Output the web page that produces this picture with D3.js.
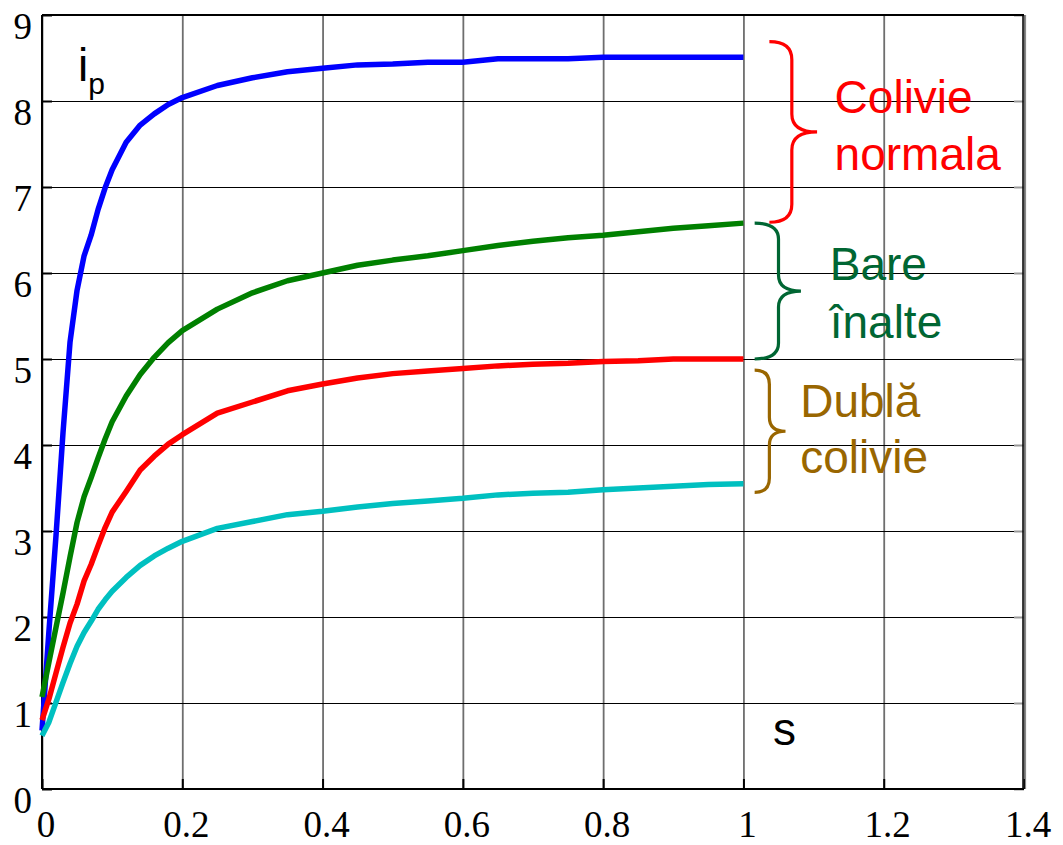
<!DOCTYPE html>
<html>
<head>
<meta charset="utf-8">
<script src="https://cdn.jsdelivr.net/npm/d3@7/dist/d3.min.js"></script>
<style>
  html, body { margin: 0; padding: 0; background: #fff; }
  svg { display: block; }
</style>
</head>
<body>
<svg id="chart" width="1063" height="845"></svg>
<script>
// Slip values shared by all four curves
const slip = [0, 0.01, 0.02, 0.03, 0.04, 0.05, 0.06, 0.07, 0.08, 0.09, 0.10,
  0.12, 0.14, 0.16, 0.18, 0.20, 0.25, 0.30, 0.35, 0.40, 0.45, 0.50, 0.55,
  0.60, 0.65, 0.70, 0.75, 0.80, 0.85, 0.90, 0.95, 1.00];

// Starting current (per unit) for each rotor type
const ipNormal = [0.68, 1.85, 2.95, 4.15, 5.2, 5.8, 6.2, 6.44, 6.74, 6.99, 7.2,
  7.52, 7.72, 7.85, 7.96, 8.04, 8.18, 8.27, 8.34, 8.38, 8.42, 8.43, 8.45,
  8.45, 8.49, 8.49, 8.49, 8.51, 8.51, 8.51, 8.51, 8.51];
const ipDeepBar = [1.07, 1.48, 1.88, 2.28, 2.7, 3.1, 3.4, 3.62, 3.85, 4.07, 4.27,
  4.57, 4.82, 5.02, 5.19, 5.33, 5.58, 5.77, 5.91, 6.0, 6.09, 6.15, 6.2,
  6.26, 6.32, 6.37, 6.41, 6.44, 6.48, 6.52, 6.55, 6.58];
const ipDouble1 = [0.8, 1.05, 1.35, 1.65, 1.93, 2.15, 2.42, 2.61, 2.83, 3.04, 3.22,
  3.46, 3.71, 3.87, 4.01, 4.12, 4.37, 4.5, 4.63, 4.71, 4.78, 4.83, 4.86,
  4.89, 4.92, 4.94, 4.95, 4.97, 4.98, 5.0, 5.0, 5.0];
const ipDouble2 = [0.62, 0.78, 1.01, 1.24, 1.46, 1.66, 1.82, 1.95, 2.09, 2.2, 2.3,
  2.46, 2.6, 2.71, 2.8, 2.88, 3.03, 3.11, 3.19, 3.23, 3.28, 3.32, 3.35,
  3.38, 3.42, 3.44, 3.45, 3.48, 3.5, 3.52, 3.54, 3.55];

const seriesColors = ["#0000ff", "#008000", "#ff0000", "#00c0c0"];

// Axis ticks
const xTicks = [0, 0.2, 0.4, 0.6, 0.8, 1, 1.2, 1.4];
const xTickLabels = ["0", "0.2", "0.4", "0.6", "0.8", "1", "1.2", "1.4"];
const yTicks = [0, 1, 2, 3, 4, 5, 6, 7, 8, 9];
const yTickLabels = ["0", "1", "2", "3", "4", "5", "6", "7", "8", "9"];

// Bracket annotations: vertical extent of each brace, label lines, colour
const groupRanges = [[6.59, 8.69], [5.0, 6.58], [3.45, 4.87]];
const groupLabels = [["Colivie", "normala"], ["Bare", "înalte"], ["Dublă", "colivie"]];
const groupColors = ["#ff0000", "#006633", "#996600"];

const margin = { left: 42, top: 15, right: 39, bottom: 56 };
const W = 1063, H = 845;
const w = W - margin.left - margin.right;
const h = H - margin.top - margin.bottom;

const svg = d3.select("#chart");
const g = svg.append("g").attr("transform", `translate(${margin.left},${margin.top})`);

const x = d3.scaleLinear().domain([0, 1.4]).range([0, w]);
const y = d3.scaleLinear().domain([0, 9]).range([h, 0]);

// Vertical grid (gray)
g.append("g")
  .attr("class", "vgrid")
  .call(d3.axisBottom(x).tickValues(xTicks).tickSize(h).tickFormat(""))
  .call(s => s.select(".domain").remove())
  .call(s => s.selectAll("line").attr("stroke", "#6e6e6e").attr("stroke-width", 1.8));

// Horizontal grid (black)
g.append("g")
  .attr("class", "hgrid")
  .call(d3.axisLeft(y).tickValues(yTicks).tickSize(-w).tickFormat(""))
  .call(s => s.select(".domain").remove())
  .call(s => s.selectAll("line").attr("stroke", "#000").attr("stroke-width", 1.2));

// Short tick stubs along the axes
g.append("g")
  .call(d3.axisRight(y).tickValues(yTicks).tickSize(10).tickFormat(""))
  .call(s => s.select(".domain").remove())
  .call(s => s.selectAll("line").attr("stroke", "#000").attr("stroke-width", 2));
g.append("g")
  .attr("transform", `translate(${w},0)`)
  .call(d3.axisLeft(y).tickValues(yTicks).tickSize(10).tickFormat(""))
  .call(s => s.select(".domain").remove())
  .call(s => s.selectAll("line").attr("stroke", "#999").attr("stroke-width", 2));
g.append("g")
  .attr("transform", `translate(0,${h})`)
  .call(d3.axisTop(x).tickValues(xTicks).tickSize(10).tickFormat(""))
  .call(s => s.select(".domain").remove())
  .call(s => s.selectAll("line").attr("stroke", "#000").attr("stroke-width", 2));

// Frame
g.append("line").attr("x1", 0).attr("x2", w).attr("y1", 0).attr("y2", 0)
  .attr("stroke", "#000").attr("stroke-width", 1.8);
g.append("line").attr("x1", 0).attr("x2", w).attr("y1", h).attr("y2", h)
  .attr("stroke", "#000").attr("stroke-width", 2);
g.append("line").attr("x1", 0).attr("x2", 0).attr("y1", 0).attr("y2", h)
  .attr("stroke", "#000").attr("stroke-width", 2);
g.append("line").attr("x1", w - 1).attr("x2", w - 1).attr("y1", 0).attr("y2", h)
  .attr("stroke", "#000").attr("stroke-width", 1.5);
g.append("line").attr("x1", w + 1.5).attr("x2", w + 1.5).attr("y1", 0).attr("y2", h)
  .attr("stroke", "#888").attr("stroke-width", 1.2);

// Tick labels
const tickFont = "'Liberation Serif', 'Times New Roman', serif";
g.append("g").selectAll("text")
  .data(xTicks)
  .join("text")
  .attr("x", d => x(d) + 4)
  .attr("y", h + 48)
  .attr("text-anchor", "middle")
  .attr("font-family", tickFont)
  .attr("font-size", 37)
  .text((d, i) => xTickLabels[i]);
g.append("g").selectAll("text")
  .data(yTicks)
  .join("text")
  .attr("x", -10)
  .attr("y", d => y(d) + 24)
  .attr("text-anchor", "end")
  .attr("font-family", tickFont)
  .attr("font-size", 37)
  .text((d, i) => yTickLabels[i]);

// Curves
const line = d3.line().x(d => x(d[0])).y(d => y(d[1]));
[ipNormal, ipDeepBar, ipDouble1, ipDouble2].forEach((vals, k) => {
  g.append("path")
    .datum(slip.map((s, i) => [s, vals[i]]))
    .attr("fill", "none")
    .attr("stroke", seriesColors[k])
    .attr("stroke-width", 5.5)
    .attr("stroke-linejoin", "round")
    .attr("d", line);
});

// Axis titles
const sansFont = "'Liberation Sans', Arial, sans-serif";
const ip = g.append("text")
  .attr("x", 78 - margin.left)
  .attr("y", 81 - margin.top)
  .attr("font-family", sansFont)
  .attr("font-size", 46);
ip.append("tspan").text("i");
ip.append("tspan").attr("font-size", 30).attr("dy", 13).text("p");

g.append("text")
  .attr("x", 773 - margin.left)
  .attr("y", 745 - margin.top)
  .attr("font-family", sansFont)
  .attr("font-size", 46)
  .text("s");

// Curly brackets grouping curves, with labels
function brace(x0, x1, xt, y0, y1, r) {
  const ym = (y0 + y1) / 2;
  return `M${x0},${y0} Q${x1},${y0} ${x1},${y0 + r} L${x1},${ym - r} ` +
    `Q${x1},${ym} ${xt},${ym} Q${x1},${ym} ${x1},${ym + r} ` +
    `L${x1},${y1 - r} Q${x1},${y1} ${x0},${y1}`;
}
const braceGeom = [
  { x0: 1.037, x1: 1.069, xt: 1.105, r: 18, tx: 1.13, gap: 57 },
  { x0: 1.016, x1: 1.050, xt: 1.082, r: 16, tx: 1.123, gap: 58 },
  { x0: 1.016, x1: 1.037, xt: 1.060, r: 14, tx: 1.081, gap: 56 }
];
const labelBase = [113, 280, 417];
groupRanges.forEach((rng, k) => {
  const b = braceGeom[k];
  g.append("path")
    .attr("d", brace(x(b.x0), x(b.x1), x(b.xt), y(rng[1]), y(rng[0]), b.r))
    .attr("fill", "none")
    .attr("stroke", groupColors[k])
    .attr("stroke-width", 3.2);
  groupLabels[k].forEach((txt, j) => {
    g.append("text")
      .attr("x", x(b.tx))
      .attr("y", labelBase[k] - margin.top + j * b.gap)
      .attr("font-family", sansFont)
      .attr("font-size", 46)
      .attr("fill", groupColors[k])
      .text(txt);
  });
});
</script>
</body>
</html>
